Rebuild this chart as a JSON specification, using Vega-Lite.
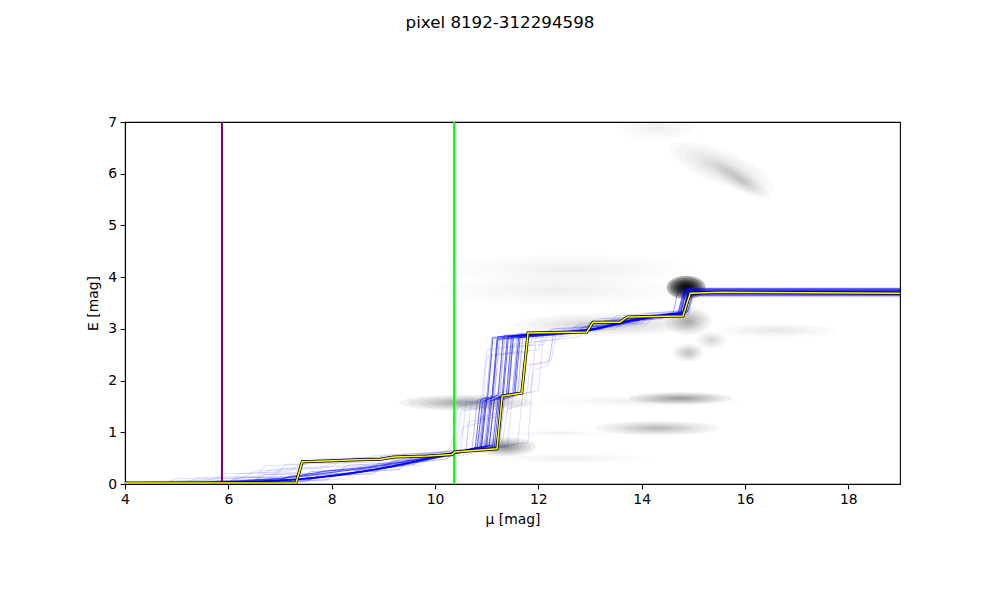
{
"$schema": "https://vega.github.io/schema/vega-lite/v6.json",
"width": 775,
"height": 362,
"autosize": {"type": "none"},
"padding": {"left": 125, "top": 122, "right": 100, "bottom": 116},
"background": "white",
"title": {"text": "pixel 8192-312294598", "font": "DejaVu Sans", "fontSize": 16.7, "fontWeight": "normal", "color": "black", "anchor": "middle", "dx": -12.5, "offset": 70, "baseline": "alphabetic"},
"config": {
  "view": {"stroke": "black", "strokeWidth": 1.1},
  "axis": {"domainColor": "black", "domainWidth": 1.1, "tickColor": "black", "tickWidth": 1.1, "tickSize": 4.9, "labelColor": "black", "titleColor": "black", "labelFont": "DejaVu Sans", "titleFont": "DejaVu Sans", "labelFontSize": 13.9, "titleFontSize": 13.9, "titleFontWeight": "normal", "labelPadding": 3.5, "grid": false, "labelFlush": false, "labelOverlap": false}
},
"datasets": {
  "blobs": [
    {"mu": 14.86, "E": 3.8, "w": 0.75, "form": "round", "ang": 0, "dens": 1.0},
    {"mu": 15.55, "E": 6.12, "w": 2.2, "form": "flat", "ang": 22, "dens": 0.07},
    {"mu": 15.95, "E": 5.85, "w": 1.2, "form": "flat", "ang": 30, "dens": 0.06},
    {"mu": 14.3, "E": 6.88, "w": 1.6, "form": "flat", "ang": 0, "dens": 0.025},
    {"mu": 12.6, "E": 4.15, "w": 4.8, "form": "thin", "ang": 0, "dens": 0.02},
    {"mu": 12.4, "E": 3.75, "w": 4.8, "form": "thin", "ang": 0, "dens": 0.03},
    {"mu": 13.3, "E": 3.08, "w": 3.6, "form": "thin", "ang": 0, "dens": 0.08},
    {"mu": 14.9, "E": 3.15, "w": 0.9, "form": "round", "ang": 0, "dens": 0.15},
    {"mu": 16.6, "E": 2.97, "w": 2.4, "form": "thin", "ang": 0, "dens": 0.04},
    {"mu": 15.35, "E": 2.78, "w": 0.6, "form": "round", "ang": 0, "dens": 0.07},
    {"mu": 14.9, "E": 2.54, "w": 0.6, "form": "round", "ang": 0, "dens": 0.1},
    {"mu": 10.6, "E": 1.57, "w": 2.6, "form": "thin", "ang": 0, "dens": 0.17},
    {"mu": 14.75, "E": 1.66, "w": 2.0, "form": "thin", "ang": 0, "dens": 0.17},
    {"mu": 14.0, "E": 1.6, "w": 4.0, "form": "band", "ang": 0, "dens": 0.025},
    {"mu": 14.3, "E": 1.08, "w": 2.4, "form": "thin", "ang": 0, "dens": 0.12},
    {"mu": 12.4, "E": 0.98, "w": 2.0, "form": "band", "ang": 0, "dens": 0.025},
    {"mu": 12.6, "E": 0.5, "w": 3.2, "form": "band", "ang": 0, "dens": 0.03},
    {"mu": 11.35, "E": 0.72, "w": 1.2, "form": "flat", "ang": 0, "dens": 0.22}
  ],
  "marks": [
    {"mu": 5.877, "kind": "a"},
    {"mu": 10.37, "kind": "b"}
  ],
  "best": [
    {"mu": 4, "E": 0.02}, {"mu": 7.31, "E": 0.02}, {"mu": 7.43, "E": 0.43}, {"mu": 8.0, "E": 0.45}, {"mu": 8.5, "E": 0.47}, {"mu": 8.94, "E": 0.48}, {"mu": 9.2, "E": 0.52}, {"mu": 9.86, "E": 0.54}, {"mu": 10.33, "E": 0.57}, {"mu": 10.38, "E": 0.62}, {"mu": 11.2, "E": 0.68}, {"mu": 11.3, "E": 1.7}, {"mu": 11.68, "E": 1.76}, {"mu": 11.8, "E": 2.92}, {"mu": 12.94, "E": 2.94}, {"mu": 13.06, "E": 3.13}, {"mu": 13.58, "E": 3.13}, {"mu": 13.72, "E": 3.23}, {"mu": 14.8, "E": 3.25}, {"mu": 14.94, "E": 3.69}, {"mu": 15.5, "E": 3.71}, {"mu": 19, "E": 3.69}
  ],
  "samples": [
    {"s":"d1","g":"d","mu":4,"E":0},{"s":"d1","g":"d","mu":5.5,"E":0.01},{"s":"d1","g":"d","mu":6.8,"E":0.05},{"s":"d1","g":"d","mu":7.6,"E":0.1},{"s":"d1","g":"d","mu":8.4,"E":0.2},{"s":"d1","g":"d","mu":9.2,"E":0.33},{"s":"d1","g":"d","mu":9.9,"E":0.47},{"s":"d1","g":"d","mu":10.5,"E":0.62},{"s":"d1","g":"d","mu":10.78,"E":0.7},{"s":"d1","g":"d","mu":10.88,"E":1.62},{"s":"d1","g":"d","mu":11.02,"E":1.68},{"s":"d1","g":"d","mu":11.12,"E":2.82},{"s":"d1","g":"d","mu":12.0,"E":2.88},{"s":"d1","g":"d","mu":12.9,"E":2.95},{"s":"d1","g":"d","mu":13.4,"E":3.05},{"s":"d1","g":"d","mu":14.0,"E":3.18},{"s":"d1","g":"d","mu":14.7,"E":3.3},{"s":"d1","g":"d","mu":14.82,"E":3.72},{"s":"d1","g":"d","mu":19,"E":3.72},
    {"s":"d2","g":"d","mu":4,"E":0},{"s":"d2","g":"d","mu":5.2,"E":0.02},{"s":"d2","g":"d","mu":6.5,"E":0.04},{"s":"d2","g":"d","mu":7.4,"E":0.09},{"s":"d2","g":"d","mu":8.2,"E":0.17},{"s":"d2","g":"d","mu":9.0,"E":0.3},{"s":"d2","g":"d","mu":9.8,"E":0.48},{"s":"d2","g":"d","mu":10.4,"E":0.6},{"s":"d2","g":"d","mu":10.88,"E":0.72},{"s":"d2","g":"d","mu":10.98,"E":1.65},{"s":"d2","g":"d","mu":11.12,"E":1.7},{"s":"d2","g":"d","mu":11.22,"E":2.85},{"s":"d2","g":"d","mu":12.1,"E":2.9},{"s":"d2","g":"d","mu":13.0,"E":2.98},{"s":"d2","g":"d","mu":13.6,"E":3.12},{"s":"d2","g":"d","mu":14.3,"E":3.25},{"s":"d2","g":"d","mu":14.75,"E":3.3},{"s":"d2","g":"d","mu":14.86,"E":3.7},{"s":"d2","g":"d","mu":19,"E":3.7},
    {"s":"d3","g":"d","mu":4,"E":0},{"s":"d3","g":"d","mu":5.8,"E":0.02},{"s":"d3","g":"d","mu":7.0,"E":0.1},{"s":"d3","g":"d","mu":7.8,"E":0.2},{"s":"d3","g":"d","mu":8.6,"E":0.3},{"s":"d3","g":"d","mu":9.4,"E":0.42},{"s":"d3","g":"d","mu":10.1,"E":0.55},{"s":"d3","g":"d","mu":10.6,"E":0.65},{"s":"d3","g":"d","mu":10.98,"E":0.73},{"s":"d3","g":"d","mu":11.08,"E":1.66},{"s":"d3","g":"d","mu":11.22,"E":1.72},{"s":"d3","g":"d","mu":11.32,"E":2.86},{"s":"d3","g":"d","mu":12.2,"E":2.92},{"s":"d3","g":"d","mu":13.1,"E":3.0},{"s":"d3","g":"d","mu":13.7,"E":3.15},{"s":"d3","g":"d","mu":14.4,"E":3.26},{"s":"d3","g":"d","mu":14.8,"E":3.32},{"s":"d3","g":"d","mu":14.9,"E":3.68},{"s":"d3","g":"d","mu":19,"E":3.68},
    {"s":"d4","g":"d","mu":4,"E":0},{"s":"d4","g":"d","mu":5.0,"E":0.01},{"s":"d4","g":"d","mu":6.2,"E":0.03},{"s":"d4","g":"d","mu":7.2,"E":0.08},{"s":"d4","g":"d","mu":8.0,"E":0.16},{"s":"d4","g":"d","mu":8.8,"E":0.28},{"s":"d4","g":"d","mu":9.6,"E":0.43},{"s":"d4","g":"d","mu":10.3,"E":0.58},{"s":"d4","g":"d","mu":11.05,"E":0.74},{"s":"d4","g":"d","mu":11.15,"E":1.64},{"s":"d4","g":"d","mu":11.32,"E":1.7},{"s":"d4","g":"d","mu":11.42,"E":2.84},{"s":"d4","g":"d","mu":12.3,"E":2.9},{"s":"d4","g":"d","mu":13.2,"E":3.02},{"s":"d4","g":"d","mu":13.8,"E":3.18},{"s":"d4","g":"d","mu":14.5,"E":3.28},{"s":"d4","g":"d","mu":14.85,"E":3.3},{"s":"d4","g":"d","mu":14.95,"E":3.74},{"s":"d4","g":"d","mu":19,"E":3.74},
    {"s":"d5","g":"d","mu":4,"E":0},{"s":"d5","g":"d","mu":5.6,"E":0.02},{"s":"d5","g":"d","mu":6.9,"E":0.06},{"s":"d5","g":"d","mu":7.7,"E":0.12},{"s":"d5","g":"d","mu":8.5,"E":0.23},{"s":"d5","g":"d","mu":9.3,"E":0.36},{"s":"d5","g":"d","mu":10.0,"E":0.52},{"s":"d5","g":"d","mu":10.5,"E":0.63},{"s":"d5","g":"d","mu":11.12,"E":0.75},{"s":"d5","g":"d","mu":11.22,"E":1.67},{"s":"d5","g":"d","mu":11.42,"E":1.72},{"s":"d5","g":"d","mu":11.52,"E":2.87},{"s":"d5","g":"d","mu":12.4,"E":2.93},{"s":"d5","g":"d","mu":13.0,"E":2.97},{"s":"d5","g":"d","mu":13.5,"E":3.1},{"s":"d5","g":"d","mu":14.2,"E":3.22},{"s":"d5","g":"d","mu":14.72,"E":3.28},{"s":"d5","g":"d","mu":14.84,"E":3.76},{"s":"d5","g":"d","mu":19,"E":3.76},
    {"s":"d6","g":"d","mu":4,"E":0},{"s":"d6","g":"d","mu":5.3,"E":0.01},{"s":"d6","g":"d","mu":6.6,"E":0.05},{"s":"d6","g":"d","mu":7.5,"E":0.11},{"s":"d6","g":"d","mu":8.3,"E":0.19},{"s":"d6","g":"d","mu":9.1,"E":0.32},{"s":"d6","g":"d","mu":9.9,"E":0.5},{"s":"d6","g":"d","mu":10.45,"E":0.61},{"s":"d6","g":"d","mu":11.2,"E":0.72},{"s":"d6","g":"d","mu":11.3,"E":1.63},{"s":"d6","g":"d","mu":11.52,"E":1.7},{"s":"d6","g":"d","mu":11.62,"E":2.83},{"s":"d6","g":"d","mu":12.5,"E":2.9},{"s":"d6","g":"d","mu":13.2,"E":3.0},{"s":"d6","g":"d","mu":13.9,"E":3.2},{"s":"d6","g":"d","mu":14.6,"E":3.3},{"s":"d6","g":"d","mu":14.88,"E":3.32},{"s":"d6","g":"d","mu":14.98,"E":3.66},{"s":"d6","g":"d","mu":19,"E":3.66},
    {"s":"d7","g":"d","mu":4,"E":0},{"s":"d7","g":"d","mu":5.9,"E":0.04},{"s":"d7","g":"d","mu":7.1,"E":0.12},{"s":"d7","g":"d","mu":7.9,"E":0.25},{"s":"d7","g":"d","mu":8.7,"E":0.33},{"s":"d7","g":"d","mu":9.5,"E":0.45},{"s":"d7","g":"d","mu":10.2,"E":0.58},{"s":"d7","g":"d","mu":10.6,"E":0.66},{"s":"d7","g":"d","mu":10.82,"E":0.71},{"s":"d7","g":"d","mu":10.92,"E":1.6},{"s":"d7","g":"d","mu":11.1,"E":1.66},{"s":"d7","g":"d","mu":11.2,"E":2.8},{"s":"d7","g":"d","mu":12.0,"E":2.87},{"s":"d7","g":"d","mu":12.8,"E":2.94},{"s":"d7","g":"d","mu":13.3,"E":3.05},{"s":"d7","g":"d","mu":14.1,"E":3.2},{"s":"d7","g":"d","mu":14.78,"E":3.28},{"s":"d7","g":"d","mu":14.9,"E":3.71},{"s":"d7","g":"d","mu":19,"E":3.71},
    {"s":"d8","g":"d","mu":4,"E":0},{"s":"d8","g":"d","mu":5.4,"E":0.02},{"s":"d8","g":"d","mu":6.7,"E":0.05},{"s":"d8","g":"d","mu":7.6,"E":0.1},{"s":"d8","g":"d","mu":8.4,"E":0.21},{"s":"d8","g":"d","mu":9.2,"E":0.34},{"s":"d8","g":"d","mu":10.0,"E":0.51},{"s":"d8","g":"d","mu":10.5,"E":0.63},{"s":"d8","g":"d","mu":11.0,"E":0.72},{"s":"d8","g":"d","mu":11.1,"E":1.62},{"s":"d8","g":"d","mu":11.55,"E":1.75},{"s":"d8","g":"d","mu":11.65,"E":2.88},{"s":"d8","g":"d","mu":12.3,"E":2.92},{"s":"d8","g":"d","mu":13.0,"E":2.99},{"s":"d8","g":"d","mu":13.6,"E":3.14},{"s":"d8","g":"d","mu":14.4,"E":3.27},{"s":"d8","g":"d","mu":14.82,"E":3.31},{"s":"d8","g":"d","mu":14.92,"E":3.73},{"s":"d8","g":"d","mu":19,"E":3.73},
    {"s":"d9","g":"d","mu":4,"E":0},{"s":"d9","g":"d","mu":6.0,"E":0.03},{"s":"d9","g":"d","mu":7.3,"E":0.09},{"s":"d9","g":"d","mu":8.1,"E":0.18},{"s":"d9","g":"d","mu":8.9,"E":0.29},{"s":"d9","g":"d","mu":9.7,"E":0.45},{"s":"d9","g":"d","mu":10.3,"E":0.58},{"s":"d9","g":"d","mu":10.7,"E":0.66},{"s":"d9","g":"d","mu":10.9,"E":0.72},{"s":"d9","g":"d","mu":11.0,"E":1.64},{"s":"d9","g":"d","mu":11.3,"E":1.7},{"s":"d9","g":"d","mu":11.4,"E":2.85},{"s":"d9","g":"d","mu":12.2,"E":2.9},{"s":"d9","g":"d","mu":13.0,"E":2.96},{"s":"d9","g":"d","mu":13.5,"E":3.08},{"s":"d9","g":"d","mu":14.2,"E":3.23},{"s":"d9","g":"d","mu":14.8,"E":3.29},{"s":"d9","g":"d","mu":14.9,"E":3.64},{"s":"d9","g":"d","mu":19,"E":3.64},
    {"s":"d10","g":"d","mu":4,"E":0},{"s":"d10","g":"d","mu":5.1,"E":0.01},{"s":"d10","g":"d","mu":6.4,"E":0.04},{"s":"d10","g":"d","mu":7.3,"E":0.09},{"s":"d10","g":"d","mu":8.1,"E":0.16},{"s":"d10","g":"d","mu":8.9,"E":0.3},{"s":"d10","g":"d","mu":9.7,"E":0.46},{"s":"d10","g":"d","mu":10.35,"E":0.6},{"s":"d10","g":"d","mu":11.15,"E":0.73},{"s":"d10","g":"d","mu":11.25,"E":1.66},{"s":"d10","g":"d","mu":11.38,"E":1.71},{"s":"d10","g":"d","mu":11.48,"E":2.86},{"s":"d10","g":"d","mu":12.4,"E":2.92},{"s":"d10","g":"d","mu":13.1,"E":3.0},{"s":"d10","g":"d","mu":13.8,"E":3.17},{"s":"d10","g":"d","mu":14.5,"E":3.28},{"s":"d10","g":"d","mu":14.76,"E":3.3},{"s":"d10","g":"d","mu":14.87,"E":3.78},{"s":"d10","g":"d","mu":19,"E":3.78},
    {"s":"m1","g":"m","mu":4,"E":0},{"s":"m1","g":"m","mu":5.6,"E":0.01},{"s":"m1","g":"m","mu":5.8,"E":0.06},{"s":"m1","g":"m","mu":7.0,"E":0.08},{"s":"m1","g":"m","mu":7.2,"E":0.16},{"s":"m1","g":"m","mu":8.4,"E":0.2},{"s":"m1","g":"m","mu":8.6,"E":0.3},{"s":"m1","g":"m","mu":9.6,"E":0.38},{"s":"m1","g":"m","mu":9.8,"E":0.5},{"s":"m1","g":"m","mu":10.6,"E":0.62},{"s":"m1","g":"m","mu":10.95,"E":0.7},{"s":"m1","g":"m","mu":11.05,"E":1.6},{"s":"m1","g":"m","mu":11.4,"E":1.68},{"s":"m1","g":"m","mu":11.5,"E":2.82},{"s":"m1","g":"m","mu":12.6,"E":2.9},{"s":"m1","g":"m","mu":12.8,"E":3.02},{"s":"m1","g":"m","mu":14.0,"E":3.12},{"s":"m1","g":"m","mu":14.2,"E":3.27},{"s":"m1","g":"m","mu":14.8,"E":3.32},{"s":"m1","g":"m","mu":14.9,"E":3.7},{"s":"m1","g":"m","mu":19,"E":3.7},
    {"s":"m2","g":"m","mu":4,"E":0},{"s":"m2","g":"m","mu":4.9,"E":0.02},{"s":"m2","g":"m","mu":6.0,"E":0.04},{"s":"m2","g":"m","mu":6.2,"E":0.12},{"s":"m2","g":"m","mu":7.6,"E":0.15},{"s":"m2","g":"m","mu":7.8,"E":0.25},{"s":"m2","g":"m","mu":9.0,"E":0.33},{"s":"m2","g":"m","mu":9.2,"E":0.45},{"s":"m2","g":"m","mu":10.4,"E":0.58},{"s":"m2","g":"m","mu":10.85,"E":0.68},{"s":"m2","g":"m","mu":10.95,"E":1.58},{"s":"m2","g":"m","mu":11.25,"E":1.66},{"s":"m2","g":"m","mu":11.35,"E":2.88},{"s":"m2","g":"m","mu":12.3,"E":2.93},{"s":"m2","g":"m","mu":13.1,"E":2.98},{"s":"m2","g":"m","mu":13.3,"E":3.16},{"s":"m2","g":"m","mu":14.6,"E":3.26},{"s":"m2","g":"m","mu":14.7,"E":3.74},{"s":"m2","g":"m","mu":19,"E":3.74},
    {"s":"m3","g":"m","mu":4,"E":0},{"s":"m3","g":"m","mu":6.3,"E":0.02},{"s":"m3","g":"m","mu":7.5,"E":0.05},{"s":"m3","g":"m","mu":7.7,"E":0.14},{"s":"m3","g":"m","mu":8.8,"E":0.2},{"s":"m3","g":"m","mu":9.0,"E":0.35},{"s":"m3","g":"m","mu":10.2,"E":0.48},{"s":"m3","g":"m","mu":10.4,"E":0.6},{"s":"m3","g":"m","mu":11.05,"E":0.76},{"s":"m3","g":"m","mu":11.15,"E":1.7},{"s":"m3","g":"m","mu":11.5,"E":1.76},{"s":"m3","g":"m","mu":11.6,"E":2.9},{"s":"m3","g":"m","mu":12.9,"E":2.96},{"s":"m3","g":"m","mu":13.0,"E":3.12},{"s":"m3","g":"m","mu":14.4,"E":3.2},{"s":"m3","g":"m","mu":14.5,"E":3.3},{"s":"m3","g":"m","mu":14.9,"E":3.34},{"s":"m3","g":"m","mu":15.0,"E":3.68},{"s":"m3","g":"m","mu":19,"E":3.68},
    {"s":"m4","g":"m","mu":4,"E":0},{"s":"m4","g":"m","mu":5.3,"E":0.01},{"s":"m4","g":"m","mu":6.5,"E":0.06},{"s":"m4","g":"m","mu":6.7,"E":0.18},{"s":"m4","g":"m","mu":8.1,"E":0.22},{"s":"m4","g":"m","mu":8.3,"E":0.36},{"s":"m4","g":"m","mu":9.4,"E":0.42},{"s":"m4","g":"m","mu":9.6,"E":0.52},{"s":"m4","g":"m","mu":10.5,"E":0.6},{"s":"m4","g":"m","mu":10.72,"E":0.7},{"s":"m4","g":"m","mu":10.82,"E":1.62},{"s":"m4","g":"m","mu":11.0,"E":1.68},{"s":"m4","g":"m","mu":11.1,"E":2.84},{"s":"m4","g":"m","mu":12.1,"E":2.9},{"s":"m4","g":"m","mu":12.3,"E":3.0},{"s":"m4","g":"m","mu":13.6,"E":3.08},{"s":"m4","g":"m","mu":13.8,"E":3.24},{"s":"m4","g":"m","mu":14.75,"E":3.3},{"s":"m4","g":"m","mu":14.85,"E":3.76},{"s":"m4","g":"m","mu":19,"E":3.76},
    {"s":"m5","g":"m","mu":4,"E":0},{"s":"m5","g":"m","mu":5.7,"E":0.02},{"s":"m5","g":"m","mu":7.9,"E":0.08},{"s":"m5","g":"m","mu":8.1,"E":0.2},{"s":"m5","g":"m","mu":9.3,"E":0.28},{"s":"m5","g":"m","mu":9.5,"E":0.44},{"s":"m5","g":"m","mu":10.3,"E":0.54},{"s":"m5","g":"m","mu":10.5,"E":0.64},{"s":"m5","g":"m","mu":11.25,"E":0.78},{"s":"m5","g":"m","mu":11.35,"E":1.72},{"s":"m5","g":"m","mu":11.6,"E":1.78},{"s":"m5","g":"m","mu":11.7,"E":2.86},{"s":"m5","g":"m","mu":12.7,"E":2.92},{"s":"m5","g":"m","mu":12.9,"E":3.04},{"s":"m5","g":"m","mu":14.2,"E":3.18},{"s":"m5","g":"m","mu":14.4,"E":3.28},{"s":"m5","g":"m","mu":14.82,"E":3.3},{"s":"m5","g":"m","mu":14.92,"E":3.72},{"s":"m5","g":"m","mu":19,"E":3.72},
    {"s":"m6","g":"m","mu":4,"E":0},{"s":"m6","g":"m","mu":4.7,"E":0.03},{"s":"m6","g":"m","mu":6.1,"E":0.05},{"s":"m6","g":"m","mu":7.4,"E":0.1},{"s":"m6","g":"m","mu":7.6,"E":0.24},{"s":"m6","g":"m","mu":8.7,"E":0.28},{"s":"m6","g":"m","mu":8.9,"E":0.4},{"s":"m6","g":"m","mu":10.0,"E":0.5},{"s":"m6","g":"m","mu":10.7,"E":0.66},{"s":"m6","g":"m","mu":10.9,"E":0.72},{"s":"m6","g":"m","mu":11.0,"E":1.64},{"s":"m6","g":"m","mu":11.15,"E":1.7},{"s":"m6","g":"m","mu":11.25,"E":2.8},{"s":"m6","g":"m","mu":12.2,"E":2.88},{"s":"m6","g":"m","mu":13.0,"E":2.96},{"s":"m6","g":"m","mu":13.2,"E":3.14},{"s":"m6","g":"m","mu":14.5,"E":3.24},{"s":"m6","g":"m","mu":14.78,"E":3.28},{"s":"m6","g":"m","mu":14.88,"E":3.67},{"s":"m6","g":"m","mu":19,"E":3.67},
    {"s":"s1","g":"s","mu":4,"E":0},{"s":"s1","g":"s","mu":4.8,"E":0.02},{"s":"s1","g":"s","mu":5.0,"E":0.1},{"s":"s1","g":"s","mu":6.3,"E":0.12},{"s":"s1","g":"s","mu":6.5,"E":0.25},{"s":"s1","g":"s","mu":7.8,"E":0.3},{"s":"s1","g":"s","mu":8.0,"E":0.4},{"s":"s1","g":"s","mu":9.5,"E":0.5},{"s":"s1","g":"s","mu":10.4,"E":0.6},{"s":"s1","g":"s","mu":10.5,"E":1.4},{"s":"s1","g":"s","mu":11.0,"E":1.5},{"s":"s1","g":"s","mu":11.1,"E":2.5},{"s":"s1","g":"s","mu":12.0,"E":2.6},{"s":"s1","g":"s","mu":12.1,"E":2.95},{"s":"s1","g":"s","mu":13.4,"E":3.05},{"s":"s1","g":"s","mu":13.5,"E":3.25},{"s":"s1","g":"s","mu":14.9,"E":3.35},{"s":"s1","g":"s","mu":15.0,"E":3.75},{"s":"s1","g":"s","mu":19,"E":3.75},
    {"s":"s2","g":"s","mu":4,"E":0},{"s":"s2","g":"s","mu":6.0,"E":0.02},{"s":"s2","g":"s","mu":6.2,"E":0.2},{"s":"s2","g":"s","mu":7.2,"E":0.25},{"s":"s2","g":"s","mu":7.4,"E":0.4},{"s":"s2","g":"s","mu":8.6,"E":0.45},{"s":"s2","g":"s","mu":8.8,"E":0.55},{"s":"s2","g":"s","mu":10.0,"E":0.6},{"s":"s2","g":"s","mu":10.6,"E":0.65},{"s":"s2","g":"s","mu":10.7,"E":1.55},{"s":"s2","g":"s","mu":11.6,"E":1.7},{"s":"s2","g":"s","mu":11.7,"E":2.3},{"s":"s2","g":"s","mu":12.2,"E":2.35},{"s":"s2","g":"s","mu":12.3,"E":2.95},{"s":"s2","g":"s","mu":13.2,"E":3.0},{"s":"s2","g":"s","mu":13.3,"E":3.15},{"s":"s2","g":"s","mu":14.7,"E":3.25},{"s":"s2","g":"s","mu":14.8,"E":3.68},{"s":"s2","g":"s","mu":19,"E":3.68},
    {"s":"s3","g":"s","mu":4,"E":0},{"s":"s3","g":"s","mu":5.5,"E":0.05},{"s":"s3","g":"s","mu":6.8,"E":0.1},{"s":"s3","g":"s","mu":7.0,"E":0.3},{"s":"s3","g":"s","mu":8.2,"E":0.35},{"s":"s3","g":"s","mu":8.4,"E":0.5},{"s":"s3","g":"s","mu":9.6,"E":0.55},{"s":"s3","g":"s","mu":10.8,"E":0.7},{"s":"s3","g":"s","mu":10.9,"E":1.3},{"s":"s3","g":"s","mu":11.4,"E":1.4},{"s":"s3","g":"s","mu":11.5,"E":2.7},{"s":"s3","g":"s","mu":12.4,"E":2.8},{"s":"s3","g":"s","mu":12.5,"E":3.0},{"s":"s3","g":"s","mu":13.9,"E":3.1},{"s":"s3","g":"s","mu":14.0,"E":3.3},{"s":"s3","g":"s","mu":14.85,"E":3.35},{"s":"s3","g":"s","mu":14.95,"E":3.8},{"s":"s3","g":"s","mu":19,"E":3.8},
    {"s":"s4","g":"s","mu":4,"E":0},{"s":"s4","g":"s","mu":7.0,"E":0.05},{"s":"s4","g":"s","mu":7.2,"E":0.15},{"s":"s4","g":"s","mu":8.4,"E":0.2},{"s":"s4","g":"s","mu":8.6,"E":0.35},{"s":"s4","g":"s","mu":9.8,"E":0.45},{"s":"s4","g":"s","mu":10.1,"E":0.58},{"s":"s4","g":"s","mu":11.4,"E":0.72},{"s":"s4","g":"s","mu":11.5,"E":1.7},{"s":"s4","g":"s","mu":11.85,"E":1.78},{"s":"s4","g":"s","mu":11.95,"E":2.75},{"s":"s4","g":"s","mu":12.8,"E":2.85},{"s":"s4","g":"s","mu":13.0,"E":3.1},{"s":"s4","g":"s","mu":14.3,"E":3.2},{"s":"s4","g":"s","mu":14.9,"E":3.28},{"s":"s4","g":"s","mu":15.0,"E":3.62},{"s":"s4","g":"s","mu":19,"E":3.62},
    {"s":"s5","g":"s","mu":4,"E":0},{"s":"s5","g":"s","mu":4.6,"E":0.01},{"s":"s5","g":"s","mu":5.8,"E":0.1},{"s":"s5","g":"s","mu":6.9,"E":0.14},{"s":"s5","g":"s","mu":7.1,"E":0.38},{"s":"s5","g":"s","mu":8.8,"E":0.42},{"s":"s5","g":"s","mu":9.0,"E":0.55},{"s":"s5","g":"s","mu":10.2,"E":0.62},{"s":"s5","g":"s","mu":10.3,"E":0.7},{"s":"s5","g":"s","mu":10.45,"E":1.5},{"s":"s5","g":"s","mu":10.9,"E":1.6},{"s":"s5","g":"s","mu":11.0,"E":2.6},{"s":"s5","g":"s","mu":11.9,"E":2.7},{"s":"s5","g":"s","mu":12.0,"E":2.9},{"s":"s5","g":"s","mu":13.0,"E":2.95},{"s":"s5","g":"s","mu":13.2,"E":3.2},{"s":"s5","g":"s","mu":14.6,"E":3.25},{"s":"s5","g":"s","mu":14.7,"E":3.7},{"s":"s5","g":"s","mu":19,"E":3.7},
    {"s":"s6","g":"s","mu":4,"E":0},{"s":"s6","g":"s","mu":6.4,"E":0.04},{"s":"s6","g":"s","mu":7.6,"E":0.08},{"s":"s6","g":"s","mu":7.8,"E":0.22},{"s":"s6","g":"s","mu":9.0,"E":0.3},{"s":"s6","g":"s","mu":9.2,"E":0.45},{"s":"s6","g":"s","mu":10.5,"E":0.55},{"s":"s6","g":"s","mu":11.6,"E":0.78},{"s":"s6","g":"s","mu":11.7,"E":1.75},{"s":"s6","g":"s","mu":12.0,"E":1.8},{"s":"s6","g":"s","mu":12.1,"E":2.9},{"s":"s6","g":"s","mu":13.5,"E":3.0},{"s":"s6","g":"s","mu":13.7,"E":3.22},{"s":"s6","g":"s","mu":14.7,"E":3.3},{"s":"s6","g":"s","mu":14.8,"E":3.73},{"s":"s6","g":"s","mu":19,"E":3.73},
    {"s":"s7","g":"s","mu":4,"E":0},{"s":"s7","g":"s","mu":5.2,"E":0.03},{"s":"s7","g":"s","mu":5.4,"E":0.12},{"s":"s7","g":"s","mu":6.6,"E":0.15},{"s":"s7","g":"s","mu":6.8,"E":0.28},{"s":"s7","g":"s","mu":8.0,"E":0.32},{"s":"s7","g":"s","mu":8.2,"E":0.48},{"s":"s7","g":"s","mu":9.4,"E":0.52},{"s":"s7","g":"s","mu":10.6,"E":0.68},{"s":"s7","g":"s","mu":10.65,"E":1.2},{"s":"s7","g":"s","mu":11.2,"E":1.3},{"s":"s7","g":"s","mu":11.3,"E":2.5},{"s":"s7","g":"s","mu":11.8,"E":2.55},{"s":"s7","g":"s","mu":11.9,"E":2.88},{"s":"s7","g":"s","mu":12.6,"E":2.92},{"s":"s7","g":"s","mu":12.8,"E":3.1},{"s":"s7","g":"s","mu":14.4,"E":3.2},{"s":"s7","g":"s","mu":14.85,"E":3.3},{"s":"s7","g":"s","mu":14.95,"E":3.66},{"s":"s7","g":"s","mu":19,"E":3.66},
    {"s":"s8","g":"s","mu":4,"E":0},{"s":"s8","g":"s","mu":5.9,"E":0.02},{"s":"s8","g":"s","mu":7.4,"E":0.06},{"s":"s8","g":"s","mu":7.6,"E":0.18},{"s":"s8","g":"s","mu":8.9,"E":0.25},{"s":"s8","g":"s","mu":9.1,"E":0.42},{"s":"s8","g":"s","mu":10.0,"E":0.52},{"s":"s8","g":"s","mu":11.3,"E":0.75},{"s":"s8","g":"s","mu":11.4,"E":1.45},{"s":"s8","g":"s","mu":11.75,"E":1.55},{"s":"s8","g":"s","mu":11.85,"E":2.3},{"s":"s8","g":"s","mu":12.25,"E":2.4},{"s":"s8","g":"s","mu":12.35,"E":2.95},{"s":"s8","g":"s","mu":13.6,"E":3.05},{"s":"s8","g":"s","mu":13.8,"E":3.25},{"s":"s8","g":"s","mu":14.75,"E":3.3},{"s":"s8","g":"s","mu":14.85,"E":3.77},{"s":"s8","g":"s","mu":19,"E":3.77},
    {"s":"s9","g":"s","mu":4,"E":0},{"s":"s9","g":"s","mu":6.5,"E":0.05},{"s":"s9","g":"s","mu":6.7,"E":0.35},{"s":"s9","g":"s","mu":7.5,"E":0.38},{"s":"s9","g":"s","mu":7.7,"E":0.48},{"s":"s9","g":"s","mu":9.0,"E":0.52},{"s":"s9","g":"s","mu":10.4,"E":0.6},{"s":"s9","g":"s","mu":10.55,"E":1.1},{"s":"s9","g":"s","mu":10.9,"E":1.2},{"s":"s9","g":"s","mu":11.0,"E":2.45},{"s":"s9","g":"s","mu":11.5,"E":2.55},{"s":"s9","g":"s","mu":11.6,"E":2.9},{"s":"s9","g":"s","mu":13.1,"E":3.0},{"s":"s9","g":"s","mu":13.3,"E":3.2},{"s":"s9","g":"s","mu":14.8,"E":3.28},{"s":"s9","g":"s","mu":14.9,"E":3.72},{"s":"s9","g":"s","mu":19,"E":3.72},
    {"s":"s10","g":"s","mu":4,"E":0},{"s":"s10","g":"s","mu":5.0,"E":0.04},{"s":"s10","g":"s","mu":6.1,"E":0.07},{"s":"s10","g":"s","mu":7.9,"E":0.12},{"s":"s10","g":"s","mu":8.1,"E":0.32},{"s":"s10","g":"s","mu":9.3,"E":0.38},{"s":"s10","g":"s","mu":9.5,"E":0.5},{"s":"s10","g":"s","mu":10.7,"E":0.65},{"s":"s10","g":"s","mu":11.1,"E":0.74},{"s":"s10","g":"s","mu":11.2,"E":1.75},{"s":"s10","g":"s","mu":11.5,"E":1.82},{"s":"s10","g":"s","mu":11.6,"E":2.65},{"s":"s10","g":"s","mu":12.1,"E":2.7},{"s":"s10","g":"s","mu":12.2,"E":2.92},{"s":"s10","g":"s","mu":14.1,"E":3.1},{"s":"s10","g":"s","mu":14.3,"E":3.28},{"s":"s10","g":"s","mu":14.8,"E":3.32},{"s":"s10","g":"s","mu":14.92,"E":3.69},{"s":"s10","g":"s","mu":19,"E":3.69},
    {"s":"s11","g":"s","mu":4,"E":0},{"s":"s11","g":"s","mu":4.5,"E":0.05},{"s":"s11","g":"s","mu":5.7,"E":0.08},{"s":"s11","g":"s","mu":5.9,"E":0.2},{"s":"s11","g":"s","mu":7.3,"E":0.22},{"s":"s11","g":"s","mu":7.5,"E":0.42},{"s":"s11","g":"s","mu":9.2,"E":0.47},{"s":"s11","g":"s","mu":9.4,"E":0.58},{"s":"s11","g":"s","mu":10.5,"E":0.64},{"s":"s11","g":"s","mu":10.6,"E":1.58},{"s":"s11","g":"s","mu":11.1,"E":1.64},{"s":"s11","g":"s","mu":11.2,"E":2.78},{"s":"s11","g":"s","mu":12.6,"E":2.86},{"s":"s11","g":"s","mu":12.7,"E":3.05},{"s":"s11","g":"s","mu":13.9,"E":3.12},{"s":"s11","g":"s","mu":14.1,"E":3.3},{"s":"s11","g":"s","mu":14.85,"E":3.35},{"s":"s11","g":"s","mu":14.95,"E":3.75},{"s":"s11","g":"s","mu":19,"E":3.75},
    {"s":"s12","g":"s","mu":4,"E":0},{"s":"s12","g":"s","mu":6.8,"E":0.03},{"s":"s12","g":"s","mu":8.3,"E":0.1},{"s":"s12","g":"s","mu":8.5,"E":0.28},{"s":"s12","g":"s","mu":9.7,"E":0.36},{"s":"s12","g":"s","mu":9.9,"E":0.5},{"s":"s12","g":"s","mu":11.0,"E":0.7},{"s":"s12","g":"s","mu":11.8,"E":0.8},{"s":"s12","g":"s","mu":11.9,"E":2.2},{"s":"s12","g":"s","mu":12.2,"E":2.3},{"s":"s12","g":"s","mu":12.3,"E":2.93},{"s":"s12","g":"s","mu":13.3,"E":3.0},{"s":"s12","g":"s","mu":13.4,"E":3.18},{"s":"s12","g":"s","mu":14.9,"E":3.28},{"s":"s12","g":"s","mu":15.0,"E":3.65},{"s":"s12","g":"s","mu":19,"E":3.65}
  ]
},
"layer": [
  {
    "data": {"name": "blobs"},
    "encoding": {
      "x": {"field": "mu", "type": "quantitative", "title": "μ [mag]", "scale": {"domain": [4, 19], "nice": false, "zero": false}, "axis": {"values": [4, 6, 8, 10, 12, 14, 16, 18], "format": "d", "titlePadding": 6}},
      "y": {"field": "E", "type": "quantitative", "title": "E [mag]", "scale": {"domain": [0, 7], "nice": false, "zero": false}, "axis": {"values": [0, 1, 2, 3, 4, 5, 6, 7], "format": "d", "titlePadding": 7}},
      "opacity": {"field": "dens", "type": "quantitative", "scale": {"domain": [0, 1], "range": [0, 0.3]}, "legend": null},
      "shape": {"field": "form", "type": "nominal", "legend": null, "scale": {"domain": ["round", "flat", "thin", "band"], "range": [
        "M-1,0C-1,-0.331,-0.552,-0.6,0,-0.6C0.552,-0.6,1,-0.331,1,0C1,0.331,0.552,0.6,0,0.6C-0.552,0.6,-1,0.331,-1,0Z",
        "M-1,0C-1,-0.166,-0.552,-0.3,0,-0.3C0.552,-0.3,1,-0.166,1,0C1,0.166,0.552,0.3,0,0.3C-0.552,0.3,-1,0.166,-1,0Z",
        "M-1,0C-1,-0.066,-0.552,-0.12,0,-0.12C0.552,-0.12,1,-0.066,1,0C1,0.066,0.552,0.12,0,0.12C-0.552,0.12,-1,0.066,-1,0Z",
        "M-1,0C-1,-0.033,-0.552,-0.06,0,-0.06C0.552,-0.06,1,-0.033,1,0C1,0.033,0.552,0.06,0,0.06C-0.552,0.06,-1,0.033,-1,0Z"
      ]}},
      "angle": {"field": "ang", "type": "quantitative", "scale": null}
    },
    "layer": [
      {"mark": {"type": "point", "filled": true, "color": "black", "strokeWidth": 0, "clip": true}, "encoding": {"size": {"field": "w", "type": "quantitative", "legend": null, "scale": {"type": "pow", "exponent": 2, "domain": [0, 1], "range": [0, 2670]}}}},
      {"mark": {"type": "point", "filled": true, "color": "black", "strokeWidth": 0, "clip": true}, "encoding": {"size": {"field": "w", "type": "quantitative", "legend": null, "scale": {"type": "pow", "exponent": 2, "domain": [0, 1], "range": [0, 1929]}}}},
      {"mark": {"type": "point", "filled": true, "color": "black", "strokeWidth": 0, "clip": true}, "encoding": {"size": {"field": "w", "type": "quantitative", "legend": null, "scale": {"type": "pow", "exponent": 2, "domain": [0, 1], "range": [0, 1308]}}}},
      {"mark": {"type": "point", "filled": true, "color": "black", "strokeWidth": 0, "clip": true}, "encoding": {"size": {"field": "w", "type": "quantitative", "legend": null, "scale": {"type": "pow", "exponent": 2, "domain": [0, 1], "range": [0, 867]}}}},
      {"mark": {"type": "point", "filled": true, "color": "black", "strokeWidth": 0, "clip": true}, "encoding": {"size": {"field": "w", "type": "quantitative", "legend": null, "scale": {"type": "pow", "exponent": 2, "domain": [0, 1], "range": [0, 541]}}}},
      {"mark": {"type": "point", "filled": true, "color": "black", "strokeWidth": 0, "clip": true}, "encoding": {"size": {"field": "w", "type": "quantitative", "legend": null, "scale": {"type": "pow", "exponent": 2, "domain": [0, 1], "range": [0, 309]}}}},
      {"mark": {"type": "point", "filled": true, "color": "black", "strokeWidth": 0, "clip": true}, "encoding": {"size": {"field": "w", "type": "quantitative", "legend": null, "scale": {"type": "pow", "exponent": 2, "domain": [0, 1], "range": [0, 154]}}}},
      {"mark": {"type": "point", "filled": true, "color": "black", "strokeWidth": 0, "clip": true}, "encoding": {"size": {"field": "w", "type": "quantitative", "legend": null, "scale": {"type": "pow", "exponent": 2, "domain": [0, 1], "range": [0, 60]}}}}
    ],
    "resolve": {"scale": {"size": "independent"}}
  },
  {
    "data": {"name": "samples"},
    "transform": [{"filter": "datum.g === 's'"}],
    "mark": {"type": "line", "color": "#0000ff", "strokeWidth": 0.6, "opacity": 0.22, "clip": true},
    "encoding": {
      "x": {"field": "mu", "type": "quantitative", "title": "μ [mag]"},
      "y": {"field": "E", "type": "quantitative", "title": "E [mag]"},
      "detail": {"field": "s", "type": "nominal"}
    }
  },
  {
    "data": {"name": "samples"},
    "transform": [{"filter": "datum.g === 'm'"}],
    "mark": {"type": "line", "color": "#0000ff", "strokeWidth": 0.8, "opacity": 0.35, "clip": true},
    "encoding": {
      "x": {"field": "mu", "type": "quantitative", "title": "μ [mag]"},
      "y": {"field": "E", "type": "quantitative", "title": "E [mag]"},
      "detail": {"field": "s", "type": "nominal"}
    }
  },
  {
    "data": {"name": "samples"},
    "transform": [{"filter": "datum.g === 'd'"}],
    "mark": {"type": "line", "color": "#0000ff", "strokeWidth": 1.0, "opacity": 0.6, "clip": true},
    "encoding": {
      "x": {"field": "mu", "type": "quantitative", "title": "μ [mag]"},
      "y": {"field": "E", "type": "quantitative", "title": "E [mag]"},
      "detail": {"field": "s", "type": "nominal"}
    }
  },
  {
    "data": {"name": "marks"},
    "mark": {"type": "rule", "strokeWidth": 2},
    "encoding": {
      "x": {"field": "mu", "type": "quantitative", "title": "μ [mag]"},
      "color": {"field": "kind", "type": "nominal", "legend": null, "scale": {"domain": ["a", "b"], "range": ["#800080", "#00ff00"]}}
    }
  },
  {
    "data": {"name": "best"},
    "mark": {"type": "line", "color": "black", "strokeWidth": 3, "clip": true},
    "encoding": {
      "x": {"field": "mu", "type": "quantitative", "title": "μ [mag]"},
      "y": {"field": "E", "type": "quantitative", "title": "E [mag]"}
    }
  },
  {
    "data": {"name": "best"},
    "mark": {"type": "line", "color": "#ffff00", "strokeWidth": 1.5, "clip": true},
    "encoding": {
      "x": {"field": "mu", "type": "quantitative", "title": "μ [mag]"},
      "y": {"field": "E", "type": "quantitative", "title": "E [mag]"}
    }
  }
],
"resolve": {"scale": {"size": "independent"}}
}
